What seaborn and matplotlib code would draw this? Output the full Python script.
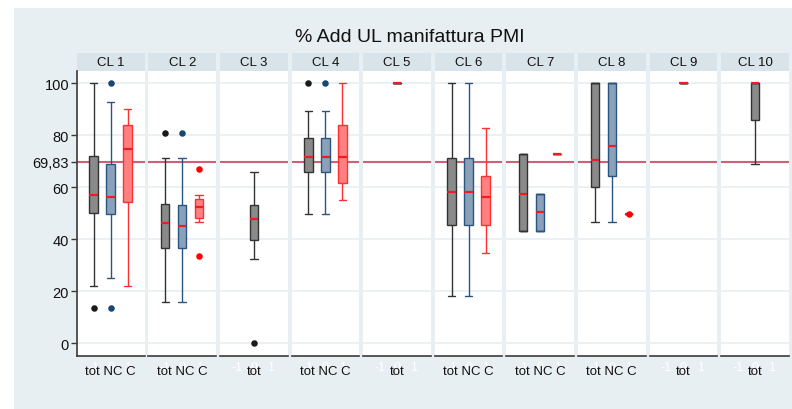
import numpy as np
import pandas as pd
import matplotlib
matplotlib.use("Agg")
import matplotlib.pyplot as plt
import seaborn as sns
from matplotlib.patches import Rectangle

# ---------------- data ----------------
panels = ["CL 1", "CL 2", "CL 3", "CL 4", "CL 5", "CL 6", "CL 7", "CL 8", "CL 9", "CL 10"]
groups = ["tot", "NC", "C"]
xlabels = ["tot NC C", "tot NC C", "tot", "tot NC C", "tot",
           "tot NC C", "tot NC C", "tot NC C", "tot", "tot"]
title = "% Add UL manifattura PMI"
ref_value = 69.83
ytick_values = [0, 20, 40, 60, 69.83, 80, 100]
ytick_labels = ["0", "20", "40", "60", "69,83", "80", "100"]

# five-number summaries per panel (None = group absent)
tot_lo  = [22.0, 16.0, 32.3, 49.5, 100, 18.2, 43.0, 46.7, 100, 68.8]
tot_q1  = [50.0, 36.5, 39.8, 65.7, 100, 45.3, 43.0, 60.2, 100, 85.7]
tot_med = [57.0, 46.1, 47.6, 71.4, 100, 58.1, 57.2, 70.3, 100, 100]
tot_q3  = [71.8, 53.6, 53.0, 79.0, 100, 71.1, 72.7, 100, 100, 100]
tot_hi  = [100, 71.2, 65.9, 89.1, 100, 100, 72.7, 100, 100, 100]
tot_out = [[13.4], [80.7], [0.0], [100], [], [], [], [], [], []]

nc_lo  = [25.2, 16.0, None, 49.5, None, 18.2, 43.0, 46.7, None, None]
nc_q1  = [49.8, 36.5, None, 65.9, None, 45.3, 43.0, 64.2, None, None]
nc_med = [56.1, 45.2, None, 71.4, None, 58.1, 50.3, 75.9, None, None]
nc_q3  = [68.8, 53.2, None, 78.7, None, 71.3, 57.2, 100, None, None]
nc_hi  = [92.6, 71.2, None, 89.1, None, 100, 57.2, 100, None, None]
nc_out = [[100, 13.4], [80.7], [], [100], [], [], [], [], [], []]

c_lo  = [22.0, 46.5, None, 55.2, None, 34.8, 72.7, 49.7, None, None]
c_q1  = [54.4, 48.0, None, 61.6, None, 45.3, 72.7, 49.7, None, None]
c_med = [74.6, 52.4, None, 71.4, None, 56.1, 72.7, 49.7, None, None]
c_q3  = [83.9, 55.4, None, 83.9, None, 64.2, 72.7, 49.7, None, None]
c_hi  = [90.1, 57.1, None, 100, None, 82.8, 72.7, 49.7, None, None]
c_out = [[], [67.1, 33.4], [], [], [], [], [], [49.7], [], []]

# ---------------- style ----------------
BG = "#e8eff2"
STRIP = "#d9e4ea"
GRID = "#e6eef1"
REF = "#d0607a"
MED = "#ee1c25"
styles = {
    "tot": dict(fill="#8a8a8a", edge="#333333", out="#1a1a1a"),
    "NC": dict(fill="#8aa1b9", edge="#2a5580", out="#1a476f"),
    "C": dict(fill="#ff8080", edge="#ff3030", out="#ff0000"),
}
summ = {
    "tot": (tot_lo, tot_q1, tot_med, tot_q3, tot_hi, tot_out),
    "NC": (nc_lo, nc_q1, nc_med, nc_q3, nc_hi, nc_out),
    "C": (c_lo, c_q1, c_med, c_q3, c_hi, c_out),
}

sns.set_style("white")
plt.rcParams["font.family"] = ["Liberation Sans", "DejaVu Sans"]

W, H = 792, 410
fig = plt.figure(figsize=(W / 100, H / 100), dpi=100)
fig.patch.set_facecolor("white")
fig.add_artist(Rectangle((14 / W, 0), 1 - 14 / W, 1 - 9.3 / H, transform=fig.transFigure,
                         facecolor=BG, edgecolor="none", zorder=-10))

fig.text(410 / W, 1 - 37 / H, title, ha="center", va="center", fontsize=14, color="#111111")

left0, pitch, pw = 76.7, 71.6, 67.8
top_px, bot_px = 72.3, 356.7
box_w = 0.5

for i, name in enumerate(panels):
    lpx = left0 + i * pitch
    ax = fig.add_axes([lpx / W, (H - bot_px) / H, pw / W, (bot_px - top_px) / H])
    ax.set_facecolor("white")
    # strip
    fig.add_artist(Rectangle((lpx / W, (H - top_px) / H), pw / W, (top_px - 54) / H,
                             transform=fig.transFigure, facecolor=STRIP,
                             edgecolor="none", zorder=-5))
    fig.text((lpx + pw / 2) / W, 1 - 63.3 / H, name, ha="center", va="center",
             fontsize=9.5, color="#111111")

    for v in [0, 20, 40, 60, 80, 100]:
        ax.axhline(v, color=GRID, lw=1.2, zorder=0.5)
    ax.axhline(ref_value, color=REF, lw=1.5, zorder=1)

    present = [g for g in groups if summ[g][0][i] is not None]
    positions = {g: (k - 1 if len(present) == 3 else 0) for k, g in enumerate(present)}

    for g in present:
        lo, q1, med, q3, hi, out = summ[g]
        vals = [lo[i], q1[i], med[i], q3[i], hi[i]]
        pos = positions[g]
        st = styles[g]
        df = pd.DataFrame({"pos": [pos] * len(vals), "value": vals})
        sns.boxplot(data=df, x="pos", y="value", orient="x", native_scale=True,
                    width=box_w, whis=(0, 100), color=st["fill"], linecolor=st["edge"],
                    linewidth=1, saturation=1, showfliers=False,
                    medianprops=dict(color=MED, linewidth=1.6, zorder=4), ax=ax)
        if out[i]:
            dfo = pd.DataFrame({"pos": [pos] * len(out[i]), "value": out[i]})
            sns.scatterplot(data=dfo, x="pos", y="value", color=st["out"], s=22,
                            linewidth=0, legend=False, ax=ax, zorder=5)

    # widen whisker caps
    for ln in ax.lines:
        xd, yd = np.asarray(ln.get_xdata(), float), np.asarray(ln.get_ydata(), float)
        if len(xd) == 2 and yd[0] == yd[1] and abs(xd[1] - xd[0]) < 0.4:
            c = xd.mean()
            ln.set_xdata([c - 0.22, c + 0.22])

    ax.set_xlim(-2, 2)
    ax.set_ylim(-4.76, 104.5)
    ax.set_xlabel("")
    ax.set_ylabel("")
    ax.grid(False)
    for s in ["top", "right", "left"]:
        ax.spines[s].set_visible(False)
    ax.spines["bottom"].set_color("#3a3a3a")
    ax.spines["bottom"].set_linewidth(1.2)
    ax.set_xticks([-1, 0, 1])
    ax.set_xticklabels(["-1", "0", "1"], color="white", fontsize=9)
    ax.tick_params(axis="x", length=0, pad=4)
    if i == 0:
        ax.spines["left"].set_visible(True)
        ax.spines["left"].set_color("#3a3a3a")
        ax.spines["left"].set_linewidth(1.2)
        ax.set_yticks(ytick_values)
        ax.set_yticklabels(ytick_labels, fontsize=10.5, color="#111111")
        ax.tick_params(axis="y", left=True, length=4.5, width=1, color="#3a3a3a", pad=1)
    else:
        ax.set_yticks(ytick_values)
        ax.tick_params(axis="y", left=False, labelleft=False)

    fig.text((lpx + pw / 2) / W, 1 - 371.7 / H, xlabels[i], ha="center", va="center",
             fontsize=9.5, color="#111111")

fig.savefig("out.png", dpi=100, facecolor=fig.get_facecolor())
